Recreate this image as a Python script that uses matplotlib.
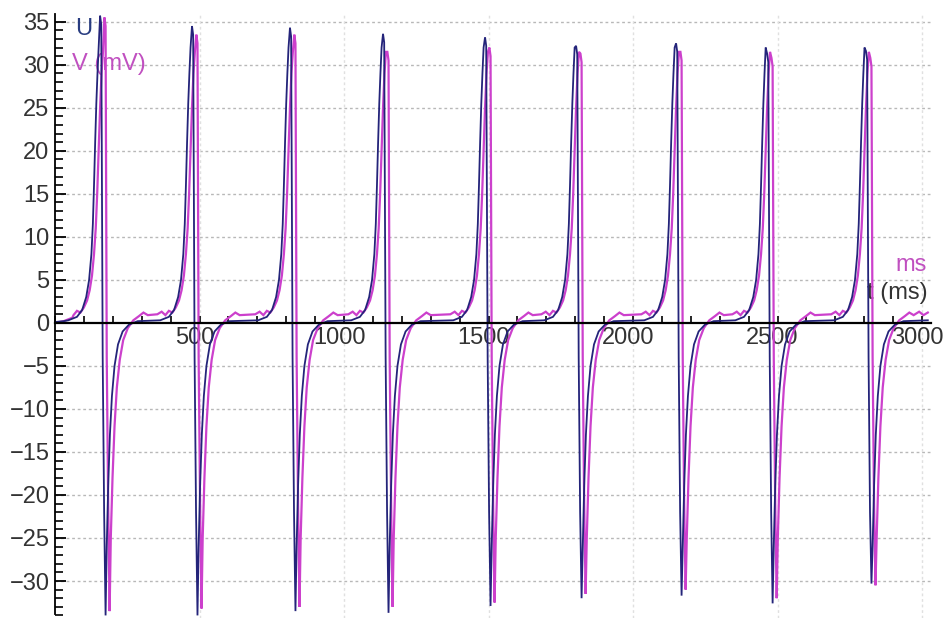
import numpy as np
import matplotlib
matplotlib.use("Agg")
import matplotlib.pyplot as plt
from matplotlib.ticker import MultipleLocator, FixedLocator
from matplotlib.transforms import ScaledTranslation

plt.rcParams['font.family'] = ['Liberation Sans', 'DejaVu Sans']

# ---------------- data ----------------
# peak times of U for each spike (ms) and spike extremes (mV)
peak_t_U = [156, 474, 813, 1135, 1488, 1803, 2149, 2464, 2806]
peak_U   = [35.7, 34.5, 34.3, 33.6, 33.2, 32.2, 32.5, 31.3, 31.6]
trough_U = [-34.0, -34.0, -33.5, -33.7, -32.9, -32.0, -31.7, -32.6, -30.3]
peak_V   = [35.5, 33.5, 33.5, 31.5, 32.0, 31.3, 31.5, 30.8, 30.8]
trough_V = [-33.5, -33.2, -33.0, -33.0, -32.5, -31.5, -31.0, -32.0, -30.5]

# waveform of one U cycle (ms relative to the U peak, mV)
U_rise_dt = [-110, -80, -62, -48, -38, -30, -25, -21, -17, -13, -9, -5]
U_rise_mv = [0.3, 0.7, 1.5, 3.0, 5.0, 8.0, 11.5, 16.0, 21.0, 25.5, 29.0, 32.0]
U_fall_dt = [9, 14]
U_fall_mv = [-4.0, -22.0]
U_rec_dt = [23, 28, 34, 41, 50, 62, 78, 100, 130]
U_rec_mv = [-26.0, -19.0, -13.0, -8.5, -5.0, -2.5, -1.0, -0.2, 0.2]
U_peak_dt, U_trough_dt = 0, 19

# waveform of one V cycle (ms relative to the U peak, mV)
V_rise_dt = [-120, -105, -92, -80, -68, -56, -45, -36, -28, -21, -15, -10, -5, 0, 5, 10]
V_rise_mv = [1.0, 1.3, 0.9, 1.4, 1.2, 1.8, 2.6, 3.8, 5.5, 8.0, 11.0, 15.0, 20.0, 25.0, 29.0, 31.5]
V_fall_dt = [23, 28]
V_fall_mv = [-4.0, -21.0]
V_rec_dt = [37, 43, 50, 58, 68, 80, 96, 115, 135, 150, 165]
V_rec_mv = [-25.0, -18.0, -12.0, -7.5, -4.3, -2.0, -0.6, 0.3, 0.8, 1.2, 0.9]
V_peak_dt, V_trough_dt = 15, 33

U_start_t, U_start_mv = [0, 30], [0.1, 0.2]
V_start_t, V_start_mv = [0, 30, 60], [0.0, 0.2, 0.6]
U_end_t, U_end_mv = [3020], [0.3]
V_end_t, V_end_mv = [2990, 3005, 3020], [1.3, 0.9, 1.2]

x_ticklabels = ['500', '1000', '1500', '2000', '2500', '3000']


def build(start_t, start_mv, rise_dt, rise_mv, pk_dt, peaks, fall_dt, fall_mv,
          tr_dt, troughs, rec_dt, rec_mv, end_t, end_mv):
    t = list(start_t)
    v = list(start_mv)
    for T, P, Q in zip(peak_t_U, peaks, troughs):
        seg_t = [T + d for d in rise_dt] + [T + pk_dt, T + pk_dt + 4] + \
                [T + d for d in fall_dt] + [T + tr_dt] + [T + d for d in rec_dt]
        seg_v = list(rise_mv) + [P, P - 1.0] + list(fall_mv) + [Q] + list(rec_mv)
        for a, b in zip(seg_t, seg_v):
            if a > t[-1]:
                t.append(a)
                v.append(b)
    t += end_t
    v += end_mv
    return np.array(t), np.array(v)


tU, U = build(U_start_t, U_start_mv, U_rise_dt, U_rise_mv, U_peak_dt, peak_U,
              U_fall_dt, U_fall_mv, U_trough_dt, trough_U, U_rec_dt, U_rec_mv,
              U_end_t, U_end_mv)
tV, V = build(V_start_t, V_start_mv, V_rise_dt, V_rise_mv, V_peak_dt, peak_V,
              V_fall_dt, V_fall_mv, V_trough_dt, trough_V, V_rec_dt, V_rec_mv,
              V_end_t, V_end_mv)

# ---------------- figure ----------------
fig = plt.figure(figsize=(9.52, 6.2), dpi=100)
ax = fig.add_axes([55 / 952, 2 / 620, 875.7 / 952, 604 / 620])
ax.set_xlim(0, 3030)
ax.set_ylim(-34.3, 35.9)

col_U = '#24247a'
col_V = '#cc40cc'

ax.plot(tV, V, color=col_V, lw=1.6, zorder=3, solid_joinstyle='miter')
ax.plot(tU, U, color=col_U, lw=1.3, zorder=4, solid_joinstyle='miter')

# grid
for yv in range(-30, 36, 5):
    if yv != 0:
        ax.axhline(yv, color='#b8b8b8', lw=1.0, ls=(0, (2, 2)), zorder=1)
for xv in range(500, 3001, 500):
    ax.axvline(xv, color='#e0e0e0', lw=1.0, ls=(0, (2, 2)), zorder=1)

# spines
for s in ['top', 'right']:
    ax.spines[s].set_visible(False)
ax.spines['left'].set_position(('data', 0))
ax.spines['left'].set_bounds(-33.8, 35.9)
ax.spines['bottom'].set_position(('data', 0))
ax.spines['left'].set_linewidth(1.3)
ax.spines['bottom'].set_linewidth(1.6)
ax.spines['left'].set_zorder(5)
ax.spines['bottom'].set_zorder(5)

ax.yaxis.set_major_locator(MultipleLocator(5))
ax.yaxis.set_minor_locator(MultipleLocator(1))
ax.xaxis.set_major_locator(FixedLocator([500, 1000, 1500, 2000, 2500, 3000]))
ax.xaxis.set_minor_locator(MultipleLocator(100))
ax.set_xticklabels(x_ticklabels)

ax.tick_params(axis='y', which='major', direction='in', length=8, width=1.3,
               labelsize=17, pad=4, labelcolor='#333333')
ax.tick_params(axis='y', which='minor', direction='in', length=6, width=1.2)
ax.tick_params(axis='x', which='major', direction='in', length=5, width=1.2,
               labelsize=17, pad=3, labelcolor='#333333')
ax.tick_params(axis='x', which='minor', direction='in', length=5, width=1.2)

shift = ScaledTranslation(-5 / 100, 0, fig.dpi_scale_trans)
for lab in ax.get_xticklabels():
    lab.set_transform(lab.get_transform() + shift)

# labels inside the plot
ax.text(69, 34.1, 'U', color='#283c80', fontsize=17, ha='left', va='center', zorder=2)
ax.text(59, 30.1, 'V (mV)', color='#c050c0', fontsize=17, ha='left', va='center', zorder=2)
ax.text(3017, 6.7, 'ms', color='#c050c0', fontsize=17, ha='right', va='center', zorder=2)
ax.text(3020, 3.5, 't (ms)', color='#333333', fontsize=17, ha='right', va='center', zorder=2)

fig.savefig('out.png', dpi=100)
